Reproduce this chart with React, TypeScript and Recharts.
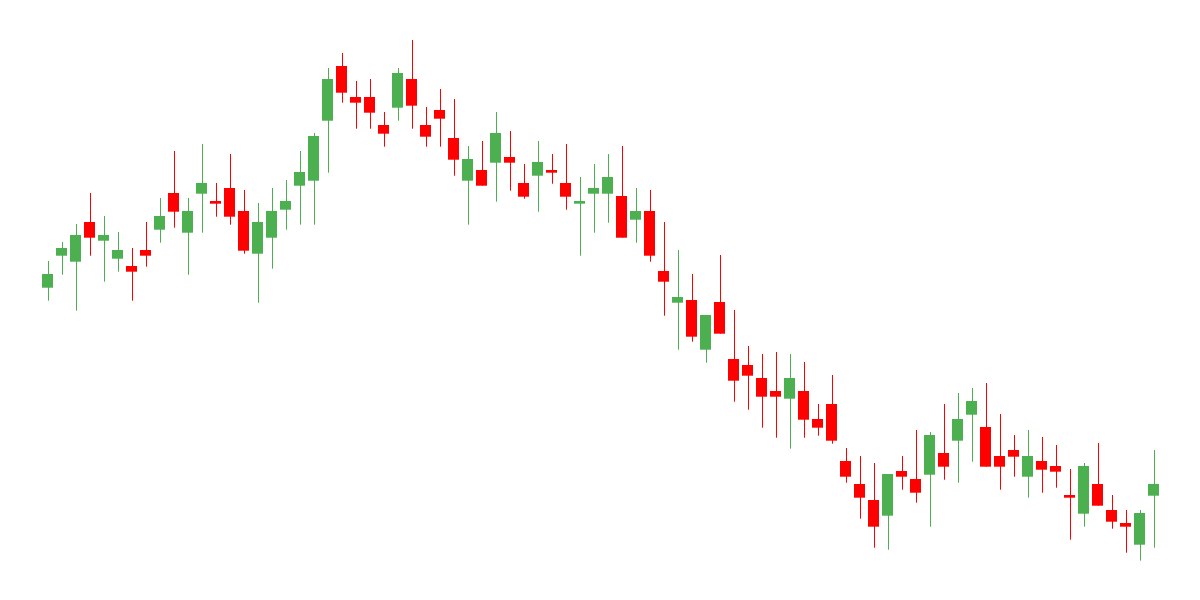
import React from "react";
import { ComposedChart, Bar, XAxis, YAxis } from "recharts";

// session labels, one per candle
const sessions = Array.from({ length: 80 }, (_, i) => `D${i + 1}`);

const opens = [
  312.3, 344.3, 338.3, 378, 359.3, 341.3, 334, 350, 370.3, 407,
  367.3, 406.3, 399, 412, 389, 346.3, 362.3, 390.3, 414.3, 419.3,
  479.3, 534, 503, 503, 475, 492.3, 521, 475, 490, 462,
  419.3, 430, 437.3, 443, 417, 424.3, 430, 417, 396.3, 406.3,
  406.3, 404, 380.3, 389, 329, 297.3, 300, 250.3, 298, 241,
  235, 222, 209, 201.3, 209, 181, 196, 139, 116, 100,
  84.3, 129, 121, 125.3, 147, 159.3, 185.3, 173, 144, 150,
  123.3, 139, 134, 105, 86.3, 116, 90, 77, 55.3, 104.3,
];
const highs = [
  339, 358, 376, 407, 384, 368, 352, 378, 402, 449,
  402, 456, 417, 446, 410, 397, 412, 420, 449, 467,
  532, 547, 519, 521, 488, 532, 560, 493, 511, 501,
  454, 459, 488, 469, 436, 459, 446, 456, 423, 436,
  446, 454, 412, 410, 378, 350, 326, 285, 345, 290,
  254, 246, 248, 246, 238, 196, 225, 152, 144, 137,
  126, 144, 170, 168, 196, 207, 212, 217, 186, 165,
  170, 163, 155, 131, 137, 157, 105, 90, 90, 150,
];
const lows = [
  299.3, 325.3, 289.3, 344.3, 318.3, 328.3, 299.3, 333.3, 357.3, 372.3,
  325.3, 367.3, 383.3, 375.3, 346.3, 297.3, 331.3, 370.3, 375.3, 375.3,
  427.3, 497.3, 471.3, 471.3, 453.3, 479.3, 471.3, 453.3, 453.3, 424.3,
  375.3, 414.3, 398.3, 409.3, 401.3, 388.3, 416.3, 390.3, 344.3, 367.3,
  377.3, 362.3, 357.3, 338.3, 284.3, 250.3, 258.3, 237.3, 266.3, 198.3,
  190.3, 172.3, 162.3, 151.3, 162.3, 164.3, 156.3, 117.3, 81.3, 52.3,
  50.3, 110.3, 97.3, 73.3, 120.3, 117.3, 138.3, 133.3, 110.3, 123.3,
  102.3, 107.3, 112.3, 60.3, 73.3, 94.3, 71.3, 47.3, 39.3, 52.3,
];
const closes = [
  326, 352, 365, 362.3, 365, 350, 328.3, 344.3, 384, 388.3,
  389, 417, 396.3, 383.3, 349.3, 378, 389, 399, 428, 464,
  521, 507.3, 497.3, 487.3, 466.3, 527, 494.3, 463.3, 481.3, 440.3,
  441, 414.3, 467, 437.3, 403.3, 438, 427.3, 403.3, 399, 412,
  423, 362.3, 389, 344.3, 318.3, 303, 263.3, 285, 266.3, 219.3,
  224.3, 203.3, 203.3, 222, 180.3, 172.3, 159.3, 123.3, 102.3, 73.3,
  126, 123.3, 107.3, 165, 133.3, 181, 199, 133.3, 133.3, 143.3,
  144, 130.3, 128.3, 102.3, 134, 94.3, 78.3, 73.3, 87, 116,
];

const UP = "#4caf50";
const DOWN = "#ff0000";

const data = sessions.map((s, i) => ({
  session: s,
  open: opens[i],
  high: highs[i],
  low: lows[i],
  close: closes[i],
}));

// draws wick + body inside the bar slot that spans low..high
function Candle(props: any) {
  const { x, y, width, height, payload } = props;
  const { open, high, low, close } = payload;
  const span = high - low || 1;
  const toY = (v: number) => y + ((high - v) / span) * height;
  const up = close >= open;
  const color = up ? UP : DOWN;
  const top = toY(Math.max(open, close));
  const bottom = toY(Math.min(open, close));
  const left = Math.round(x);
  const cx = Math.round(x + width / 2) + 0.5;
  return (
    <g>
      <line x1={cx} x2={cx} y1={y} y2={y + height} stroke={color} strokeWidth={1} />
      <rect
        x={left}
        y={top}
        width={width}
        height={Math.max(bottom - top, 1)}
        fill={color}
      />
    </g>
  );
}

export default function App() {
  return (
    <div style={{ position: "absolute", left: 0, top: 0, width: 1200, height: 600, background: "#fff" }}>
      <ComposedChart
        width={1200}
        height={600}
        data={data}
        margin={{ top: 0, right: 40, bottom: 0, left: 40 }}
      >
        <XAxis dataKey="session" hide />
        <YAxis hide domain={[0, 600]} allowDataOverflow />
        <Bar
          dataKey={(d: any) => [d.low, d.high]}
          barSize={11}
          shape={<Candle />}
          isAnimationActive={false}
        />
      </ComposedChart>
    </div>
  );
}
